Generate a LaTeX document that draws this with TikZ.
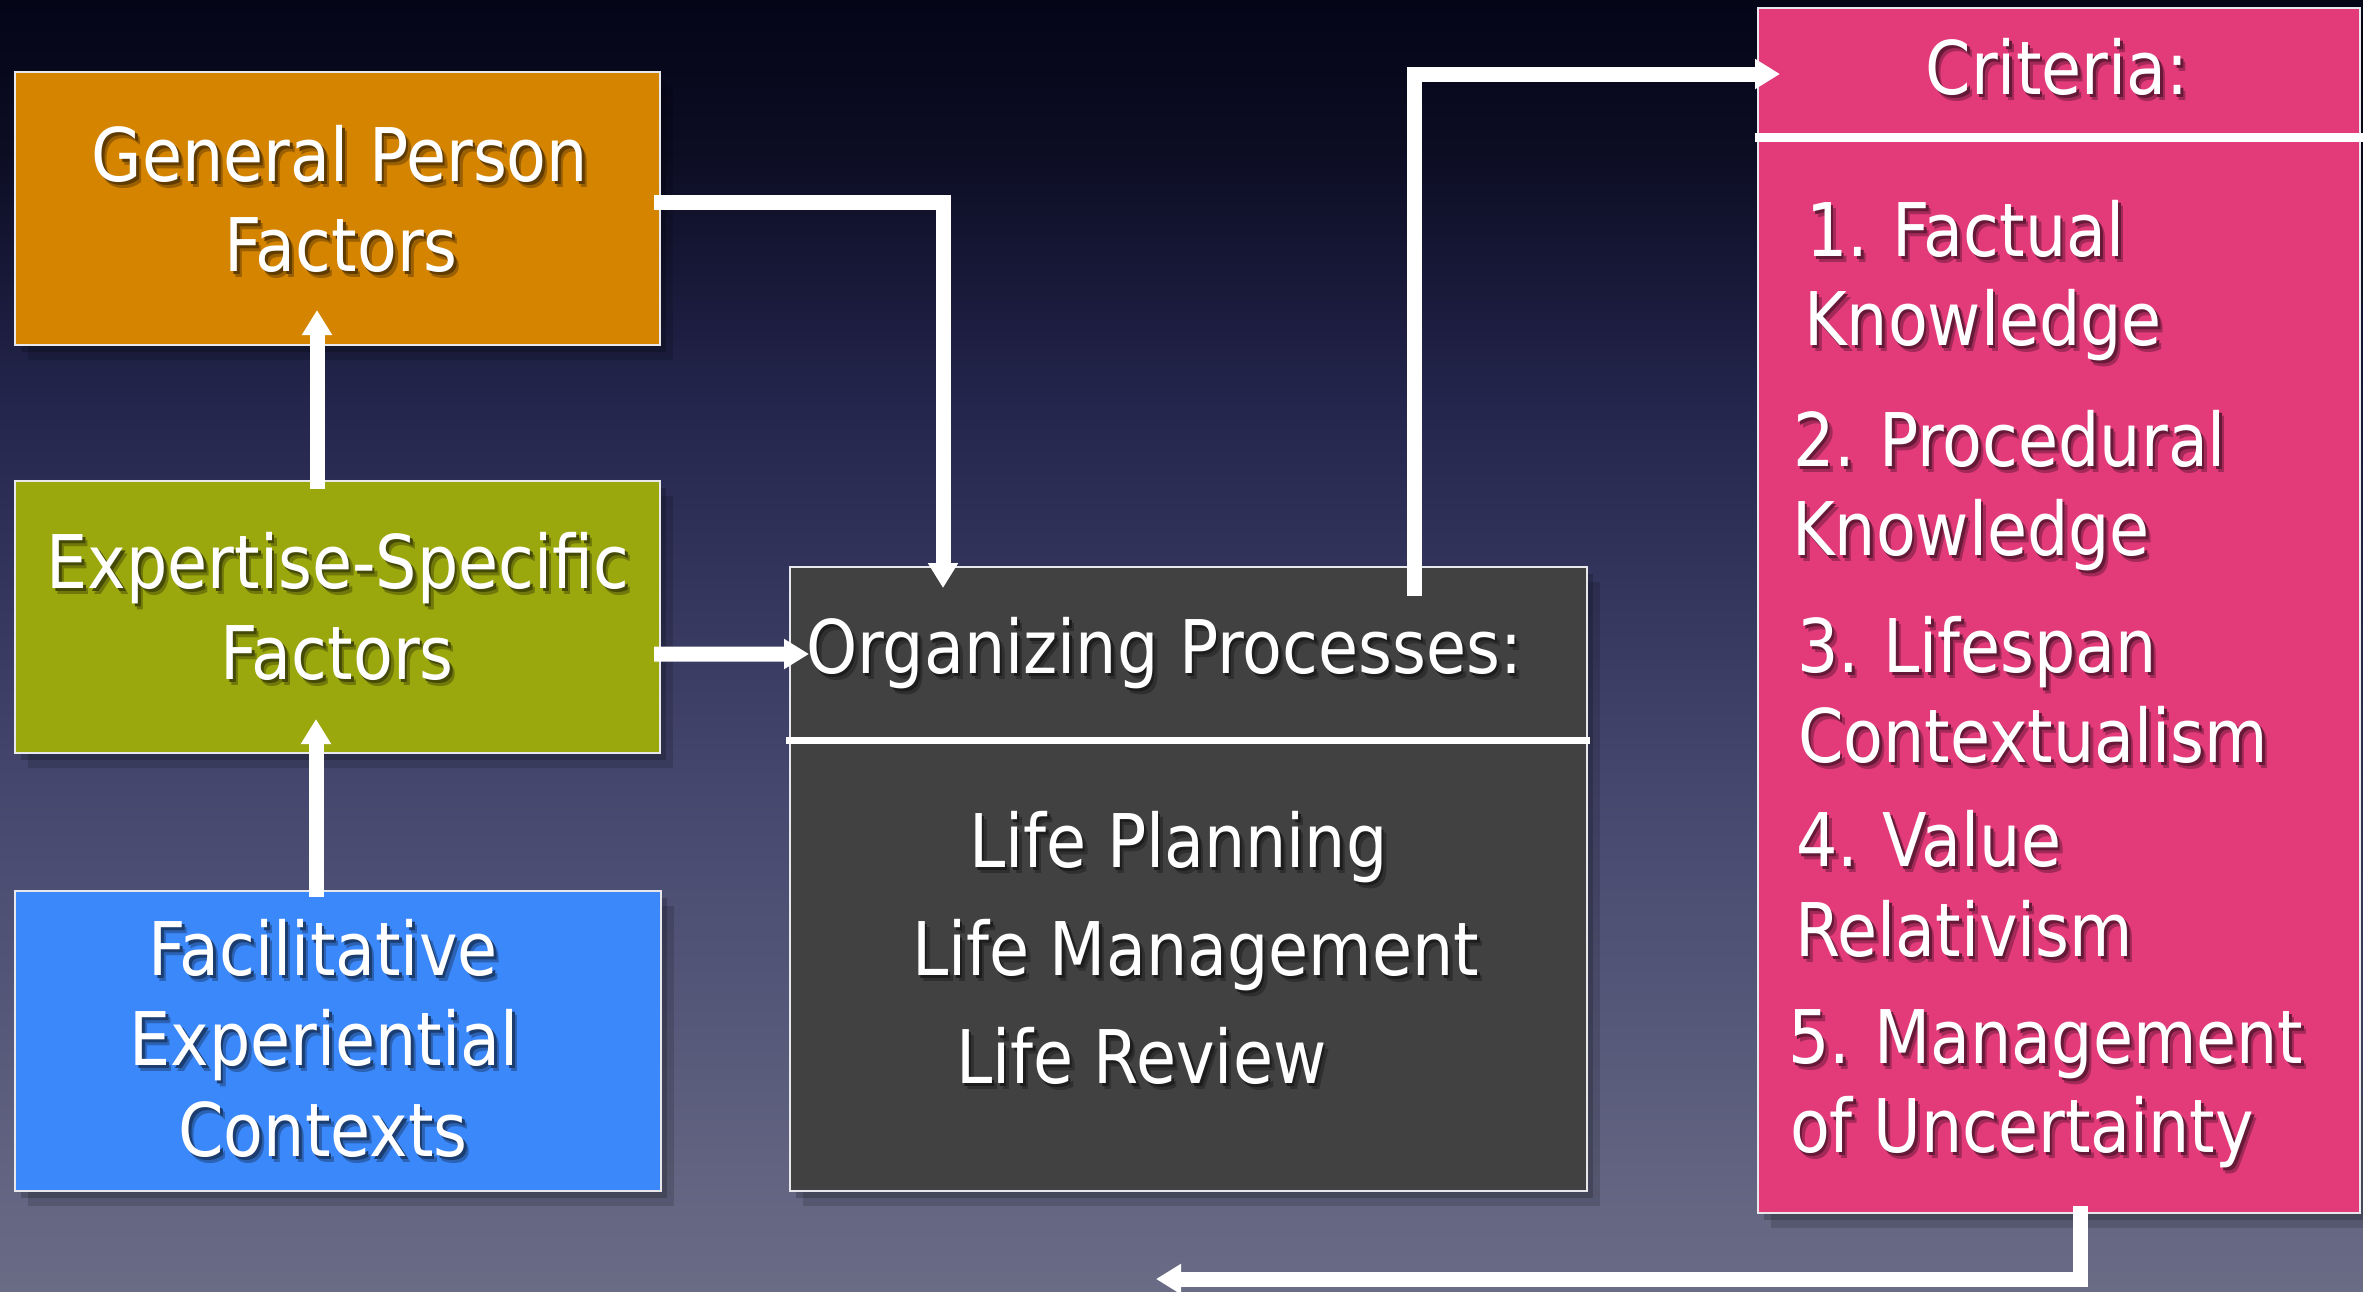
\documentclass[tikz,border=0pt]{standalone}
\usepackage{fontspec}
\setmainfont{DejaVu Sans}[FakeStretch=0.88]
\usetikzlibrary{arrows.meta,calc,shadows}
\definecolor{bgA}{RGB}{106,108,134}
\definecolor{bgB}{RGB}{70,72,111}
\definecolor{bgC}{RGB}{35,37,76}
\definecolor{bgD}{RGB}{12,12,35}
\definecolor{bgE}{RGB}{5,5,24}
\definecolor{cOrange}{RGB}{213,132,0}
\definecolor{cGreen}{RGB}{154,167,13}
\definecolor{cBlue}{RGB}{59,136,250}
\definecolor{cDark}{RGB}{65,65,65}
\definecolor{cPink}{RGB}{227,58,122}
\definecolor{cBorder}{RGB}{232,232,236}
\pgfdeclareverticalshading{bgshade}{100bp}{color(0bp)=(bgA); color(25bp)=(bgA); color(44bp)=(bgB); color(59.5bp)=(bgC); color(69.2bp)=(bgD); color(75bp)=(bgE); color(100bp)=(bgE)}
% text with a soft drop shadow in one node
\newcommand\shtx[2]{%
  \leavevmode\rlap{\kern1.5pt\raisebox{-1.8pt}{\textcolor{#1!72!black}{#2}}}%
  \rlap{\kern0.8pt\raisebox{-1.0pt}{\textcolor{#1!45!black}{#2}}}#2}
\newcommand\tx[5]{%
  \node[txt,anchor=#2] (#1) at (#3) {\shtx{#4}{#5}};}
\begin{document}
\begin{tikzpicture}[x=0.3pt,y=-0.3pt,
  box/.style={rectangle, draw=cBorder, line width=0.8pt, inner sep=0pt, outer sep=0pt,
    general shadow={fill=black,opacity=.14,shadow xshift=3.8pt,shadow yshift=-4.4pt},
    general shadow={fill=black,opacity=.18,shadow xshift=1.8pt,shadow yshift=-2.2pt}},
  txt/.style={inner sep=0pt, outer sep=0pt, text=white, font=\fontsize{22.2pt}{27pt}\selectfont},
  arr/.style={draw=white, line width=4.5pt, -{Triangle[width=8.6pt,length=7.5pt]}},
  divider/.style={draw=white, line width=#1},
]
\useasboundingbox (0,0) rectangle (2363,1291);
\shade[shading=bgshade] (0,0) rectangle (2363,1291);

% boxes
\node[box, fill=cOrange, minimum width=193.5pt, minimum height=81.9pt] (orange) at (337.5,208.5) {};
\node[box, fill=cGreen, minimum width=193.5pt, minimum height=81.6pt] (green) at (337.5,617) {};
\node[box, fill=cBlue, minimum width=193.8pt, minimum height=90pt] (blue) at (338,1041) {};
\node[box, fill=cDark, minimum width=239.1pt, minimum height=187.2pt] (dark) at (1188.5,879) {};
\node[box, fill=cPink, minimum width=180.6pt, minimum height=361.5pt] (pink) at (2059,610.5) {};

% dividers
\draw[divider=2.1pt] ($(dark.north west)+(-4,173)$) -- ($(dark.north east)+(3,173)$);
\draw[divider=2.7pt] ($(pink.north west)+(-3,129)$) -- ($(pink.north east)+(3,129)$);

% texts
\tx{t1}{base}{340,181}{cOrange}{General Person}
\tx{t2}{base}{341,271}{cOrange}{Factors}
\tx{t3}{base}{338,588}{cGreen}{Expertise-Specific}
\tx{t4}{base}{337,679}{cGreen}{Factors}
\tx{t5}{base}{323,975}{cBlue}{Facilitative}
\tx{t6}{base}{324,1065}{cBlue}{Experiential}
\tx{t7}{base}{323,1156}{cBlue}{Contexts}
\tx{t8}{base west}{806,673}{cDark}{Organizing Processes:}
\tx{t9}{base west}{969,867}{cDark}{Life Planning}
\tx{t10}{base west}{912,975}{cDark}{Life Management}
\tx{t11}{base west}{956,1083}{cDark}{Life Review}
\tx{t12}{base}{2057,94}{cPink}{Criteria:}
\tx{c1}{base west}{1806,256}{cPink}{1.\kern-1pt{} Factual}
\tx{c2}{base west}{1804,345}{cPink}{Knowledge}
\tx{c3}{base west}{1793,466}{cPink}{2.\kern-1pt{} Procedural}
\tx{c4}{base west}{1792,555}{cPink}{Knowledge}
\tx{c5}{base west}{1797,672}{cPink}{3.\kern-1pt{} Lifespan}
\tx{c6}{base west}{1798,762}{cPink}{Contextualism}
\tx{c7}{base west}{1796,866}{cPink}{4.\kern-1pt{} Value}
\tx{c8}{base west}{1795,956}{cPink}{Relativism}
\tx{c9}{base west}{1788,1063}{cPink}{5.\kern-1pt{} Management}
\tx{c10}{base west}{1790,1152}{cPink}{of Uncertainty}

% connectors
\draw[arr] ($(orange.east)+(-6,-6.5)$) -| ($(dark.north west)+(153,21)$);
\draw[arr] ($(green.north)+(-20.5,8)$) -- ($(orange.south)+(-20.5,-35)$);
\draw[arr] ($(blue.north)+(-22,6)$) -- ($(green.south)+(-21.5,-34)$);
\draw[arr] ($(green.east)+(-6,37)$) -- ($(dark.north west)+(19,87)$);
\draw[arr] ($(dark.north west)+(624,29)$) |- ($(pink.north west)+(22,66)$);
\coordinate (back) at (1156,1279);
\draw[arr] ($(pink.south west)+(322,-7)$) |- (back);
\end{tikzpicture}
\end{document}
